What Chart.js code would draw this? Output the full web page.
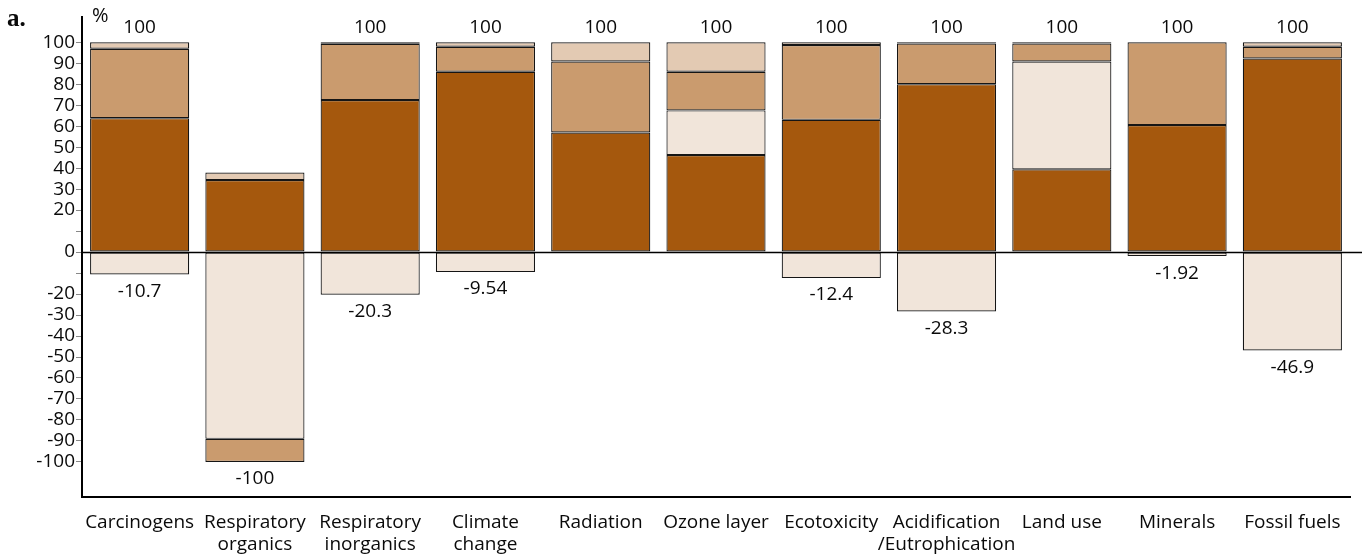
<!DOCTYPE html>
<html>
<head>
<meta charset="utf-8">
<style>
  html, body { margin: 0; padding: 0; background: #fff; }
  #wrap { width: 1362px; height: 556px; }
</style>
<script src="https://cdn.jsdelivr.net/npm/chart.js@4"></script>
</head>
<body>
<div id="wrap"><canvas id="chart" width="1362" height="556"></canvas></div>
<script>
// ===== Data =====
const categories = [
  'Carcinogens', ['Respiratory', 'organics'], ['Respiratory', 'inorganics'],
  ['Climate', 'change'], 'Radiation', 'Ozone layer', 'Ecotoxicity',
  ['Acidification', '/Eutrophication'], 'Land use', 'Minerals', 'Fossil fuels'
];

// positive stack, bottom to top
const darkPart   = [63.8, 34.3, 72.4, 85.9, 57.0, 46.2, 63.0, 80.0, 39.4, 60.5, 92.2];
const palePart   = [null, null, null, null, null, 21.3, null, null, 51.4, null, null];
const midPart    = [33.1, null, 26.8, 11.9, 33.8, 18.4, 35.6, 19.4, 8.6, 39.5, 5.6];
const lightPart  = [3.1, 3.6, 0.8, 2.2, 9.2, 14.1, 1.4, 0.6, 0.6, null, 2.2];

// negative stack, top to bottom
const paleNeg = [-10.7, -89, -20.3, -9.54, null, null, -12.4, -28.3, null, -1.92, -46.9];
const midNeg  = [null, -11, null, null, null, null, null, null, null, null, null];

const topLabels    = ['100', '', '100', '100', '100', '100', '100', '100', '100', '100', '100'];
const bottomLabels = ['-10.7', '-100', '-20.3', '-9.54', '', '', '-12.4', '-28.3', '', '-1.92', '-46.9'];

const yTickValues = [-100, -90, -80, -70, -60, -50, -40, -30, -20, -10, 0, 10, 20, 30, 40, 50, 60, 70, 80, 90, 100];
const yHiddenLabels = [10, -10];

// ===== Style =====
const COLORS = { dark: '#A5580D', mid: '#CA9B6E', light: '#E3CAB3', pale: '#F1E5DA' };
const FONT = "'Open Sans', sans-serif";

const seg = (data, color) => ({
  data, backgroundColor: color, borderColor: '#151515', borderWidth: 1.2,
  borderSkipped: false, barPercentage: 0.86, categoryPercentage: 1
});

// ===== Plugins =====
const zeroLine = {
  id: 'zeroLine',
  afterDatasetsDraw(chart) {
    const { ctx, chartArea, scales } = chart;
    const y = Math.round(scales.y.getPixelForValue(0)) + 0.5;
    ctx.save();
    ctx.strokeStyle = '#000';
    ctx.lineWidth = 1.5;
    ctx.beginPath();
    ctx.moveTo(chartArea.left, y);
    ctx.lineTo(chart.width, y);
    ctx.stroke();
    ctx.restore();
  }
};

const valueLabels = {
  id: 'valueLabels',
  afterDraw(chart) {
    const { ctx, scales } = chart;
    ctx.save();
    ctx.fillStyle = '#0a0a0a';
    ctx.font = `19px ${FONT}`;
    ctx.textAlign = 'center';
    categories.forEach((c, i) => {
      const x = scales.x.getPixelForValue(i);
      const pos = [darkPart, palePart, midPart, lightPart].reduce((s, a) => s + (a[i] || 0), 0);
      const neg = [paleNeg, midNeg].reduce((s, a) => s + (a[i] || 0), 0);
      ctx.textBaseline = 'middle';
      if (topLabels[i]) ctx.fillText(topLabels[i], x, scales.y.getPixelForValue(pos) - 15);
      if (bottomLabels[i]) ctx.fillText(bottomLabels[i], x, scales.y.getPixelForValue(neg) + 17);
    });
    // panel letter and unit
    ctx.textAlign = 'left';
    ctx.textBaseline = 'alphabetic';
    ctx.font = `bold 25px 'Liberation Serif', serif`;
    ctx.fillText('a.', 7, 26);
    ctx.font = `20px ${FONT}`;
    ctx.fillText('%', 92, 22);
    ctx.restore();
  }
};

// ===== Chart =====
new Chart(document.getElementById('chart'), {
  type: 'bar',
  data: {
    labels: categories,
    datasets: [
      seg(darkPart, COLORS.dark),
      seg(palePart, COLORS.pale),
      seg(midPart, COLORS.mid),
      seg(lightPart, COLORS.light),
      seg(paleNeg, COLORS.pale),
      seg(midNeg, COLORS.mid)
    ]
  },
  options: {
    responsive: false,
    animation: false,
    devicePixelRatio: 1,
    layout: { padding: { top: 17, right: 12, left: 0, bottom: 0 } },
    plugins: { legend: { display: false }, tooltip: { enabled: false } },
    scales: {
      x: {
        stacked: true,
        grid: { display: false },
        border: { display: true, color: '#000', width: 2 },
        ticks: { color: '#0a0a0a', font: { family: FONT, size: 19, lineHeight: 1.15 }, padding: 7, maxRotation: 0, autoSkip: false },
        afterFit(scale) { scale.height = 59; }
      },
      y: {
        stacked: true,
        min: -116.7,
        max: 112,
        afterBuildTicks(scale) { scale.ticks = yTickValues.map(v => ({ value: v })); },
        grid: { display: true, drawOnChartArea: false, drawTicks: true, tickLength: 6, color: '#888' },
        border: { display: true, color: '#000', width: 2 },
        ticks: {
          color: '#0a0a0a', font: { family: FONT, size: 19 }, padding: 1, autoSkip: false,
          callback: v => yHiddenLabels.includes(v) ? '' : String(v)
        },
        afterFit(scale) { scale.width = 82; }
      }
    }
  },
  plugins: [zeroLine, valueLabels]
});
</script>
</body>
</html>
